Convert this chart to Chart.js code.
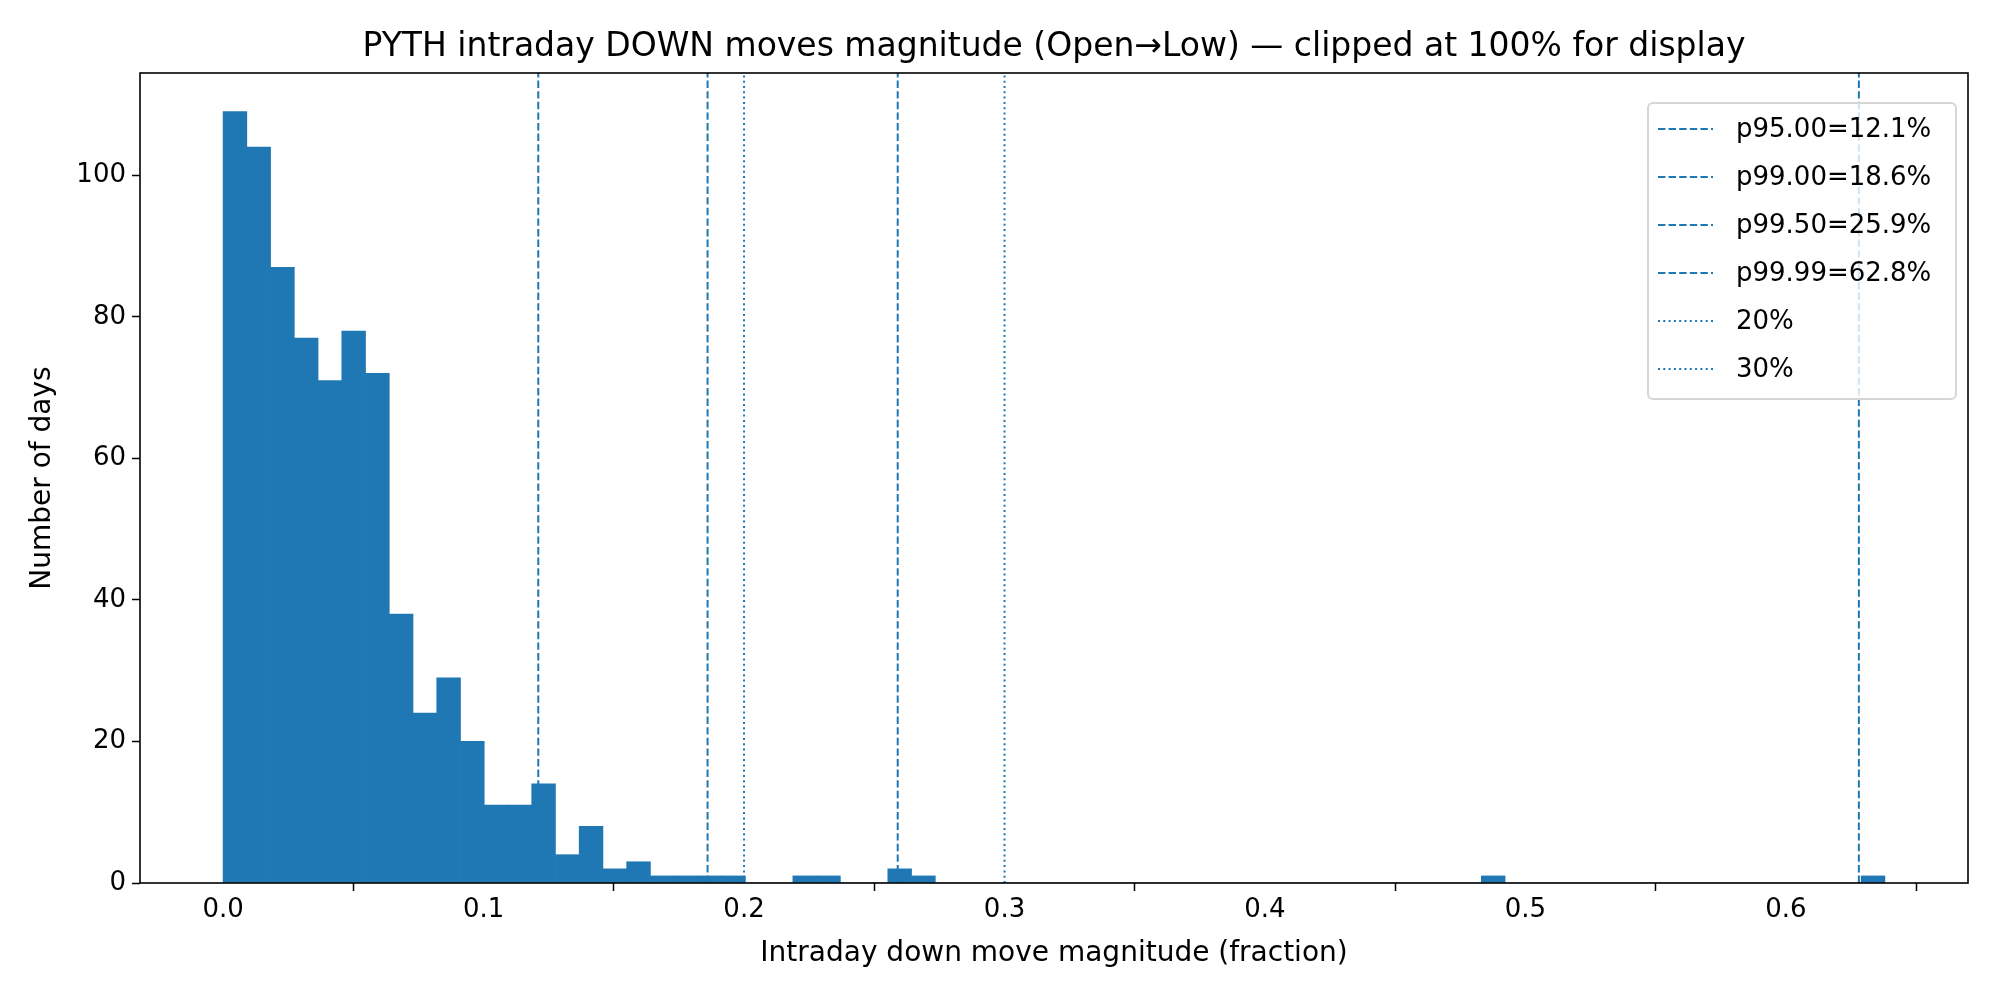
<!DOCTYPE html>
<html lang="en">
<head>
  <meta charset="UTF-8">
  <title>PYTH down moves</title>
  <script src="https://cdn.jsdelivr.net/npm/chart.js"></script>
  <style>
    body { margin: 0; background: #fff; }
  </style>
</head>
<body>
<canvas id="hist" width="2000" height="1000"></canvas>
<script>
  const BLUE = '#1f77b4';
  const FONT = '"DejaVu Sans", sans-serif';

  // histogram: 70 equal bins from 0 to 0.638
  const binMax = 0.638;
  const counts = [109, 104, 87, 77, 71, 78, 72, 38, 24, 29,
                  20, 11, 11, 14, 4, 8, 2, 3, 1, 1,
                  1, 1, 0, 0, 1, 1, 0, 0, 2, 1,
                  0, 0, 0, 0, 0, 0, 0, 0, 0, 0,
                  0, 0, 0, 0, 0, 0, 0, 0, 0, 0,
                  0, 0, 0, 1, 0, 0, 0, 0, 0, 0,
                  0, 0, 0, 0, 0, 0, 0, 0, 0, 1];
  const binW = binMax / counts.length;

  const refLabels = ['p95.00=12.1%', 'p99.00=18.6%', 'p99.50=25.9%', 'p99.99=62.8%', '20%', '30%'];
  const refValues = [0.121, 0.186, 0.259, 0.628, 0.20, 0.30];
  const refDotted = [false, false, false, false, true, true];

  const xTicks = [0, 0.1, 0.2, 0.3, 0.4, 0.5, 0.6];
  const yTicks = [0, 20, 40, 60, 80, 100];
  const xMin = -0.0319, xMax = 0.6699, yMax = 114.45;

  const dashFor = d => d ? [2, 3.3] : [7.4, 3.2];

  const datasets = [{
    type: 'bar',
    data: counts.map((c, i) => ({ x: (i + 0.5) * binW, y: c })),
    backgroundColor: BLUE,
    barPercentage: 1.0,
    categoryPercentage: 1.0,
    borderWidth: 0,
    order: 2
  }];
  refValues.forEach((v, i) => datasets.push({
    type: 'line',
    data: [{ x: v, y: 0 }, { x: v, y: yMax }],
    borderColor: BLUE,
    borderWidth: 2,
    borderDash: dashFor(refDotted[i]),
    pointRadius: 0,
    order: 1
  }));

  const extras = {
    id: 'extras',
    afterDraw(chart) {
      const { ctx, chartArea: a } = chart;
      ctx.save();
      // frame
      ctx.strokeStyle = '#000'; ctx.lineWidth = 1.6; ctx.setLineDash([]);
      ctx.strokeRect(a.left, a.top, a.right - a.left, a.bottom - a.top);
      // title and axis labels
      ctx.fillStyle = '#000'; ctx.textAlign = 'center'; ctx.textBaseline = 'middle';
      ctx.font = '33px ' + FONT;
      ctx.fillText('PYTH intraday DOWN moves magnitude (Open\u2192Low) \u2014 clipped at 100% for display', (a.left + a.right) / 2, 47);
      ctx.font = '28px ' + FONT;
      ctx.fillText('Intraday down move magnitude (fraction)', (a.left + a.right) / 2, 954);
      ctx.save();
      ctx.translate(43, (a.top + a.bottom) / 2);
      ctx.rotate(-Math.PI / 2);
      ctx.fillText('Number of days', 0, 0);
      ctx.restore();
      // legend
      const bx = 1648, by = 103, bw = 308, bh = 296;
      ctx.fillStyle = 'rgba(255,255,255,0.8)';
      ctx.strokeStyle = '#d6d6d6'; ctx.lineWidth = 2;
      ctx.beginPath(); ctx.roundRect(bx, by, bw, bh, 5); ctx.fill(); ctx.stroke();
      ctx.font = '26px ' + FONT; ctx.textAlign = 'left';
      refLabels.forEach((lab, i) => {
        const y = 129 + i * 48;
        ctx.strokeStyle = BLUE; ctx.lineWidth = 2;
        ctx.setLineDash(dashFor(refDotted[i]));
        ctx.beginPath(); ctx.moveTo(1658, y); ctx.lineTo(1713, y); ctx.stroke();
        ctx.setLineDash([]);
        ctx.fillStyle = '#000';
        ctx.fillText(lab, 1736, y + 1);
      });
      ctx.restore();
    }
  };

  const tickGrid = { display: true, drawOnChartArea: false, drawTicks: true,
                     tickLength: 8, tickColor: '#000', tickWidth: 1.5, color: 'rgba(0,0,0,0)' };

  new Chart(document.getElementById('hist').getContext('2d'), {
    data: { datasets },
    options: {
      responsive: false,
      devicePixelRatio: 1,
      animation: false,
      layout: { padding: { top: 73, right: 32, left: 0, bottom: 0 } },
      plugins: { legend: { display: false }, tooltip: { enabled: false } },
      scales: {
        x: {
          type: 'linear', min: xMin, max: xMax, offset: false,
          grid: tickGrid,
          border: { display: false },
          afterBuildTicks: s => { s.ticks = xTicks.map(v => ({ value: v })); },
          afterFit: s => { s.height = 117; },
          ticks: { color: '#000', font: { family: FONT, size: 26 }, padding: 4,
                   callback: v => v.toFixed(1), maxRotation: 0 }
        },
        y: {
          min: 0, max: yMax,
          grid: tickGrid,
          border: { display: false },
          afterBuildTicks: s => { s.ticks = yTicks.map(v => ({ value: v })); },
          afterFit: s => { s.width = 140; },
          ticks: { color: '#000', font: { family: FONT, size: 26 }, padding: 6 }
        }
      }
    },
    plugins: [extras]
  });
</script>
</body>
</html>
